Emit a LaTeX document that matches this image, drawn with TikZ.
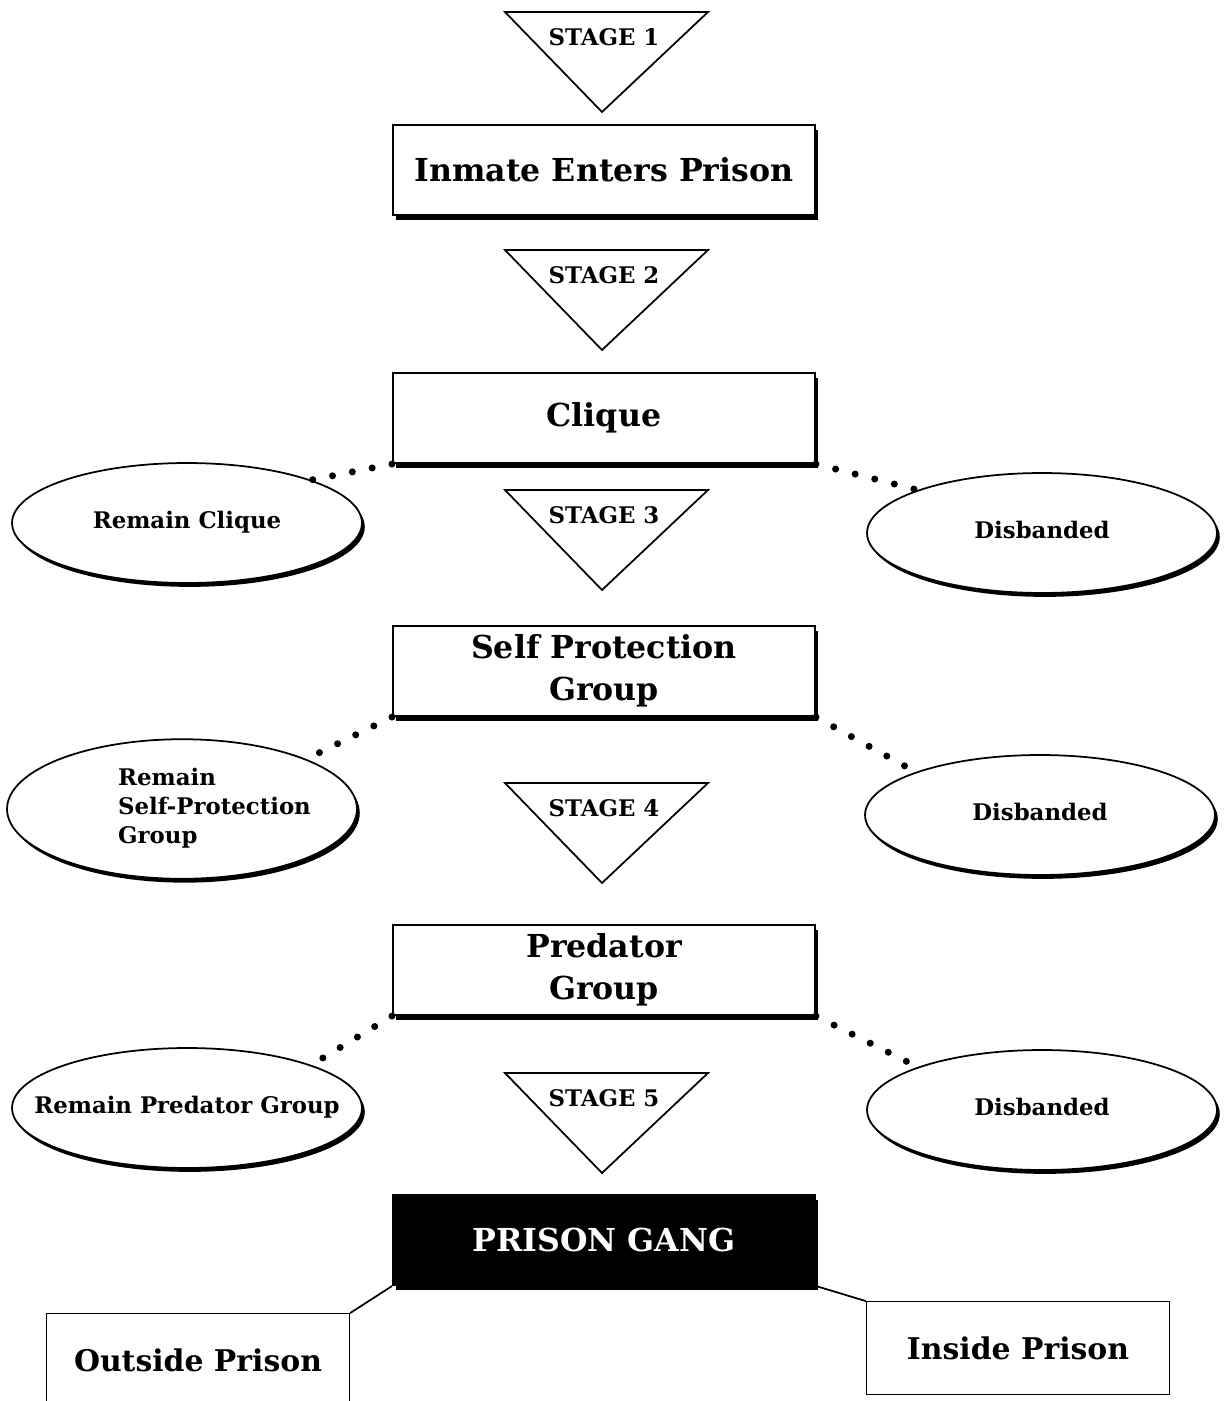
\documentclass[tikz,border=0pt]{standalone}
\usepackage{fontspec}
\setmainfont{DejaVu Serif}
\usetikzlibrary{shapes,shadows}

\newcommand{\fatetext}[1]{\makebox[0pt]{\begin{tabular}{@{}l@{}}#1\end{tabular}}}

\tikzset{
  stagebox/.style={draw, line width=1.2pt, fill=white, minimum width=8.44cm, minimum height=1.8cm,
    align=center, font=\bfseries\fontsize{18}{24}\selectfont,
    drop shadow={shadow xshift=1.6pt, shadow yshift=-2.6pt, fill=black, opacity=1}},
  endbox/.style={draw, line width=.8pt, fill=white, minimum width=6.06cm, minimum height=1.85cm,
    font=\bfseries\fontsize{17}{20}\selectfont},
  fate/.style={ellipse, draw, line width=1pt, fill=white, minimum width=7cm, minimum height=2.4cm,
    font=\bfseries\fontsize{13}{16.5}\selectfont,
    drop shadow={shadow xshift=1.6pt, shadow yshift=-2.2pt, fill=black, opacity=1}},
  dotline/.style={line width=4pt, line cap=round, dash pattern=on 0pt off 11.5pt},
  link/.style={line width=1pt},
  stagelabel/.style={font=\bfseries\fontsize{13}{15}\selectfont}
}

\begin{document}
\begin{tikzpicture}[x=0.02cm, y=-0.02cm]
\useasboundingbox (0,0) rectangle (1229,1401);

% stage markers
\foreach \n/\y in {1/12,2/250,3/490,4/783,5/1073} {
  \draw[line width=1pt] (505,\y) -- (708,\y) -- (602,\y+100) -- cycle;
  \node[stagelabel] (stage\n) at (604,\y+25) {STAGE \n};
}

% main column
\node[stagebox] (enter) at (604,170) {Inmate Enters Prison};
\node[stagebox] (clique) at (604,418) {Clique};
\node[stagebox] (selfprot) at (604,671) {Self Protection\\Group};
\node[stagebox] (predator) at (604,970) {Predator\\Group};
\node[stagebox, fill=black, text=white] (gang) at (604,1240) {PRISON GANG};

% side outcomes
\node[fate] (rclique) at (187,523) {\fatetext{Remain Clique}};
\node[fate] (dis1) at (1042,533) {\fatetext{Disbanded}};
\node[fate] (rself) at (182,809) {\fatetext{\hspace{1.3cm}Remain\\\hspace{1.3cm}Self-Protection\\\hspace{1.3cm}Group}};
\node[fate] (dis2) at (1040,815) {\fatetext{Disbanded}};
\node[fate] (rpred) at (187,1108) {\fatetext{Remain Predator Group}};
\node[fate] (dis3) at (1042,1110) {\fatetext{Disbanded}};

\draw[dotline] (clique.south west) -- (rclique.north east);
\draw[dotline] (clique.south east) -- (dis1.north west);
\draw[dotline] (selfprot.south west) -- (rself.north east);
\draw[dotline] (selfprot.south east) -- (dis2.north west);
\draw[dotline] (predator.south west) -- (rpred.north east);
\draw[dotline] (predator.south east) -- (dis3.north west);

% where the gang works
\node[endbox] (outside) at (198,1360) {Outside Prison};
\node[endbox] (inside) at (1018,1348) {Inside Prison};
\draw[link] (gang.south west) -- (outside.north east);
\draw[link] (gang.south east) -- (inside.north west);

\end{tikzpicture}
\end{document}
